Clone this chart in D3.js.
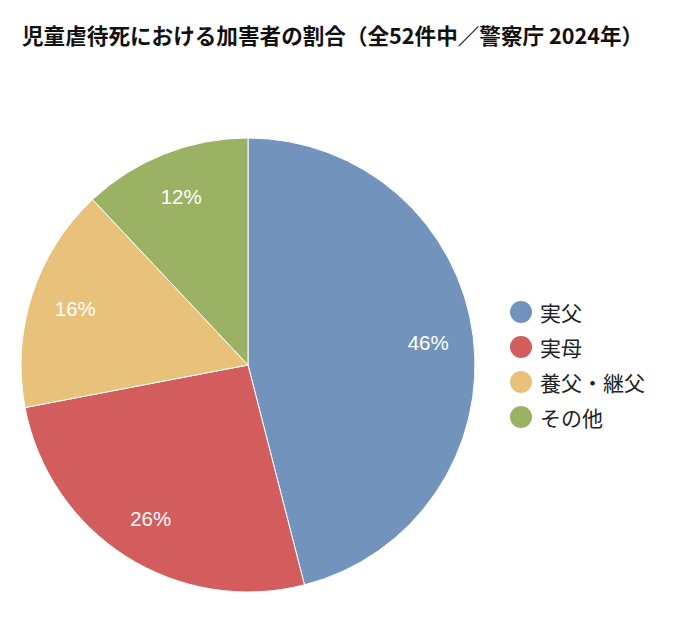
<!DOCTYPE html>
<html><head><meta charset="utf-8">
<script src="https://cdn.jsdelivr.net/npm/d3@7"></script>
<style>
html,body{margin:0;padding:0;background:#fff;}
</style>
</head><body>
<svg id="chart" width="680" height="622"></svg>
<script>
const title = "児童虐待死における加害者の割合（全52件中／警察庁 2024年）";
const categories = ["実父", "実母", "養父・継父", "その他"];
const values = [46, 26, 16, 12];
const colors = ["#7293BB", "#D35C5D", "#E8C27A", "#9BB265"];

const svg = d3.select("#chart");
svg.append("rect").attr("width",680).attr("height",622).attr("fill","#fff");

svg.append("text")
  .attr("x", 22).attr("y", 44)
  .attr("font-family", "'Noto Sans CJK JP', sans-serif")
  .attr("font-weight", "bold")
  .attr("font-size", 21.6)
  .attr("fill", "#111")
  .text(title);

const cx = 248, cy = 365, R = 227;
const data = categories.map((c,i)=>({cat:c, value:values[i], color:colors[i]}));
const pie = d3.pie().value(d=>d.value).sort(null);
const arc = d3.arc().innerRadius(0).outerRadius(R);
const labelArc = d3.arc().innerRadius(R*0.8).outerRadius(R*0.8);

const g = svg.append("g").attr("transform", `translate(${cx},${cy})`);
const arcs = pie(data);
g.selectAll("path").data(arcs).join("path")
  .attr("d", arc)
  .attr("fill", d=>d.data.color)
  .attr("stroke", "#fff")
  .attr("stroke-width", 1);

g.selectAll("text.lbl").data(arcs).join("text")
  .attr("class","lbl")
  .attr("transform", d=>`translate(${labelArc.centroid(d)})`)
  .attr("text-anchor","middle")
  .attr("dominant-baseline","central")
  .attr("font-family","'Liberation Sans', Arial, sans-serif")
  .attr("font-size", 20.5)
  .attr("fill","#fff")
  .text(d=>d.data.value + "%");

const legendY = d3.scalePoint().domain(categories).range([312, 417]);
const lg = svg.append("g");
const items = lg.selectAll("g").data(data).join("g")
  .attr("transform", d=>`translate(521,${legendY(d.cat)})`);
items.append("circle").attr("r", 11).attr("fill", d=>d.color);
items.append("text")
  .attr("x", 19).attr("y", 0)
  .attr("dominant-baseline","central")
  .attr("font-family","'Noto Sans CJK JP', sans-serif")
  .attr("font-size", 21)
  .attr("fill","#222")
  .text(d=>d.cat);
</script>
</body></html>
